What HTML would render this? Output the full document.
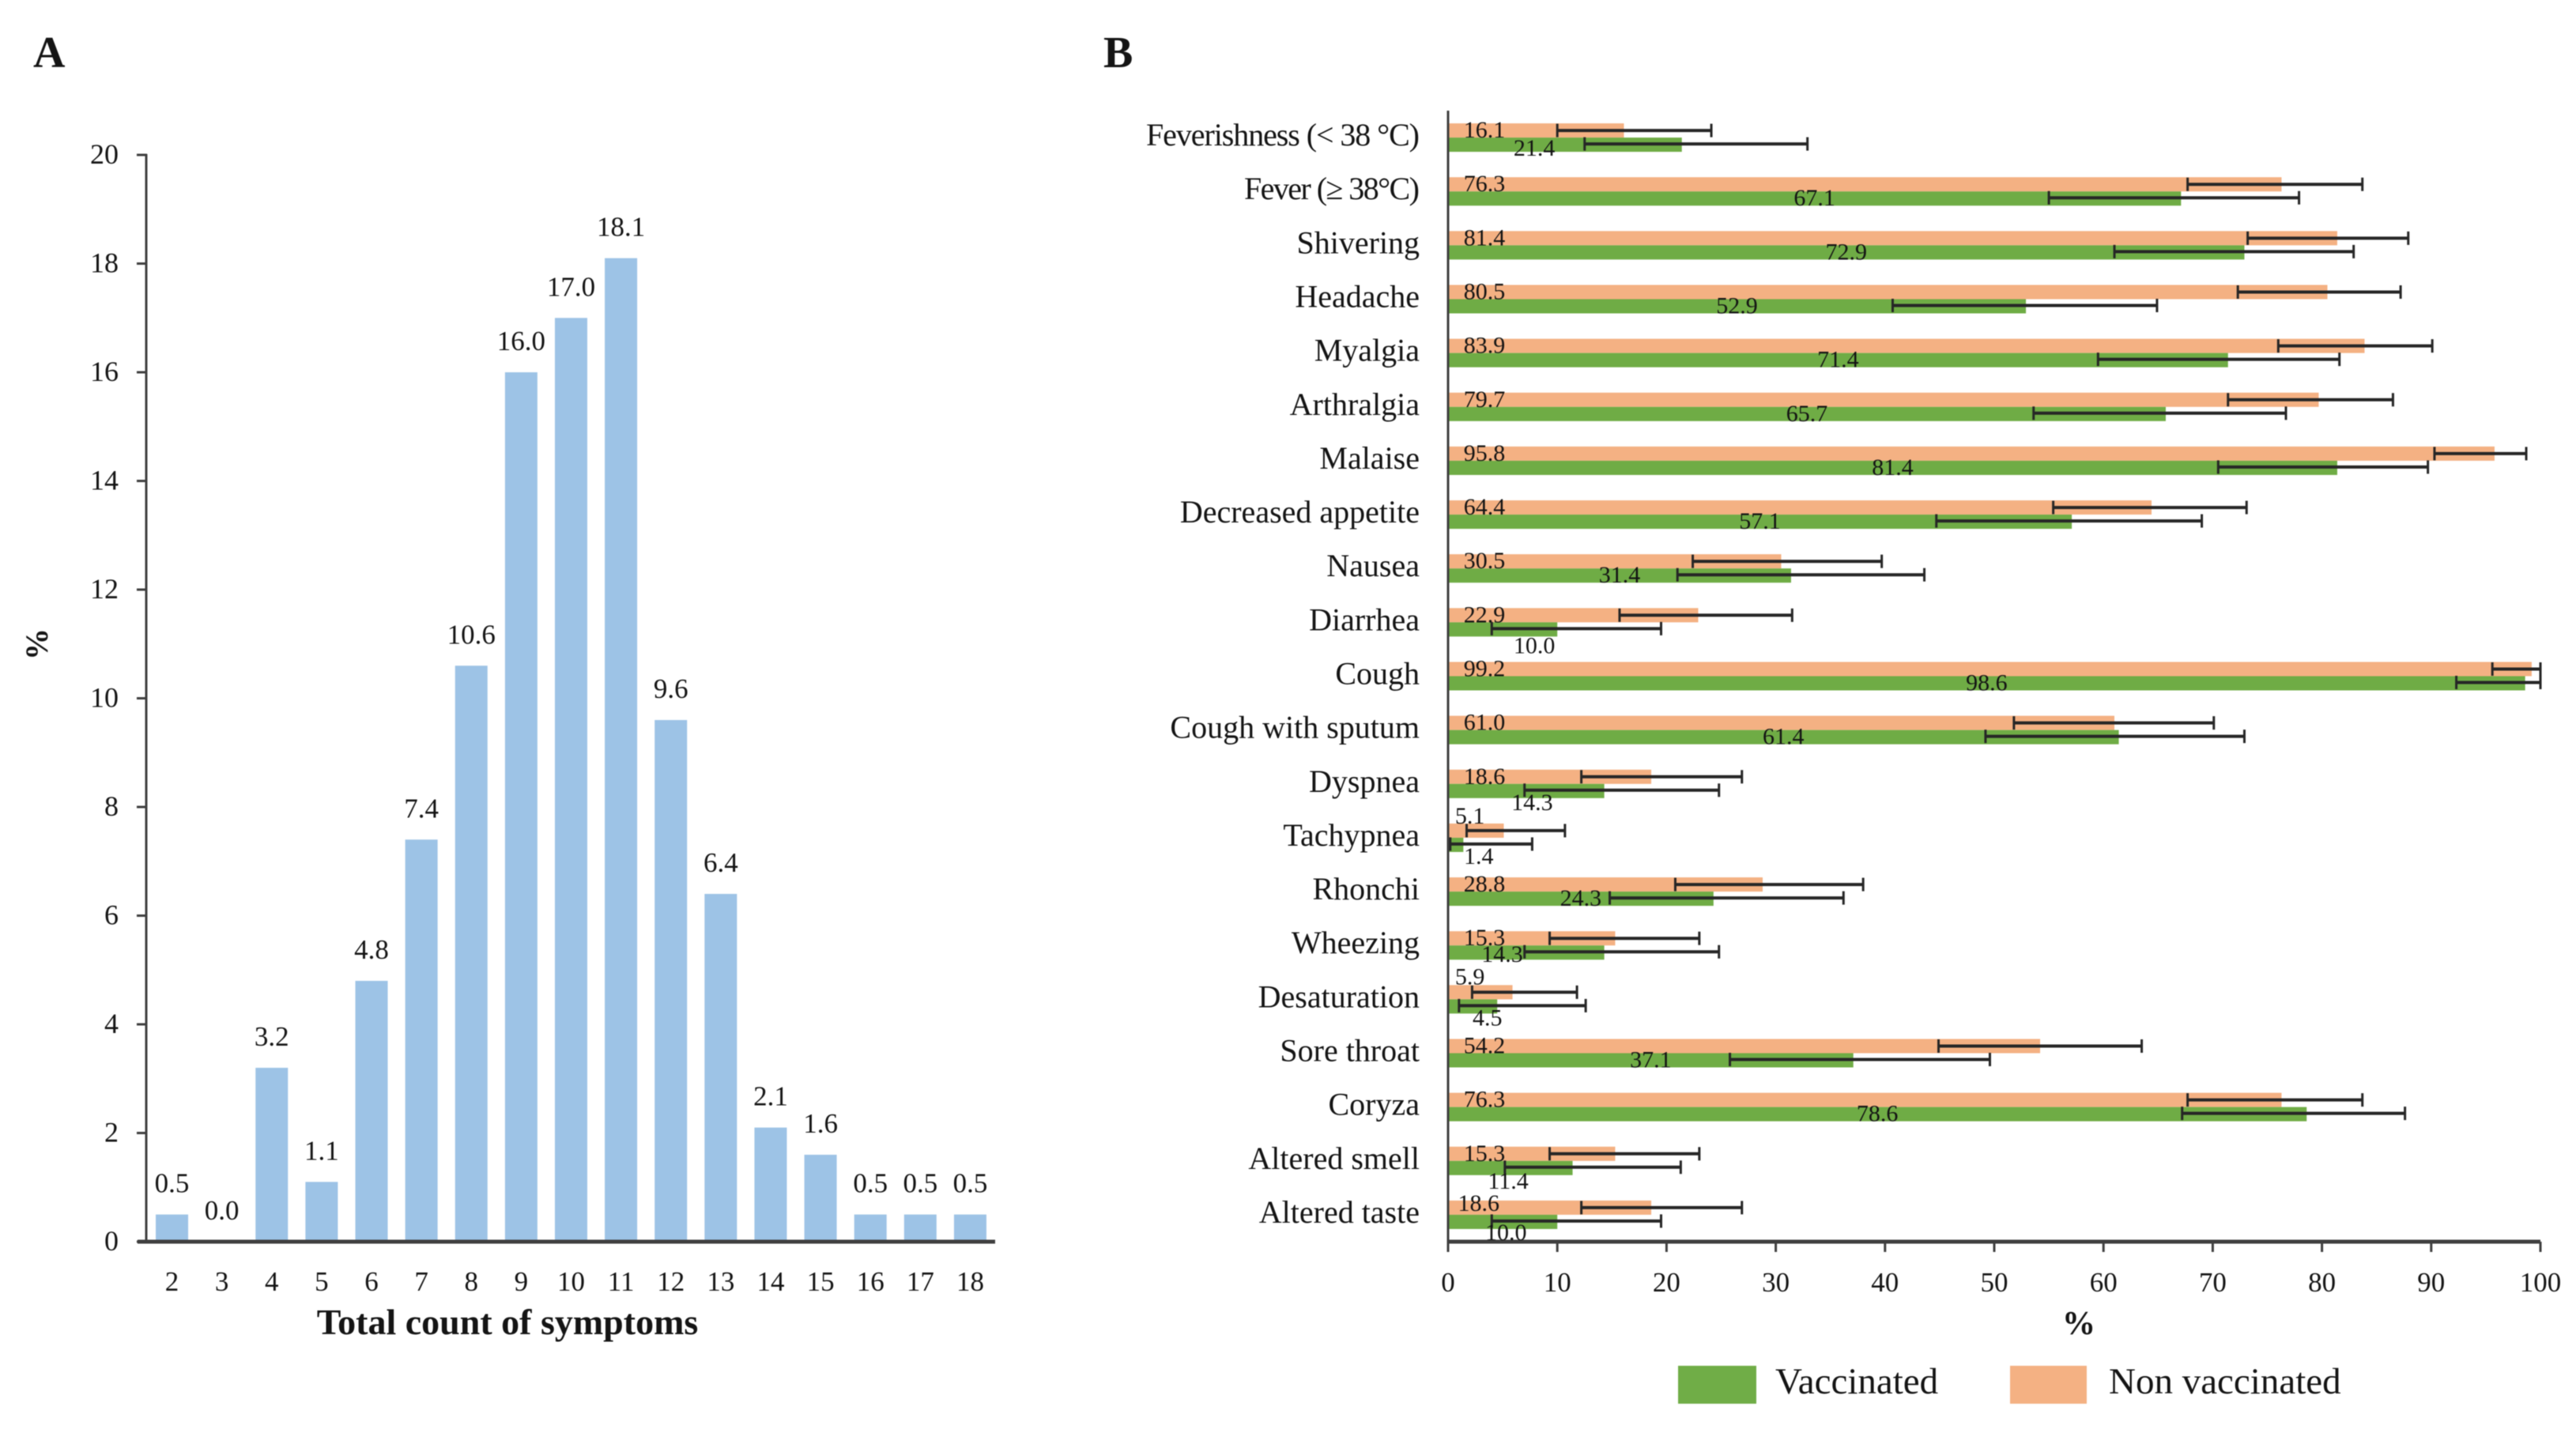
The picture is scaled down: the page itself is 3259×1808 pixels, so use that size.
<!DOCTYPE html>
<html lang="en">
<head>
<meta charset="utf-8">
<title>Symptoms charts</title>
<style>
html,body{margin:0;padding:0;background:#fff;}
svg{display:block;filter:blur(0.6px);}
text{font-family:"Liberation Serif",serif;fill:#141414;}
</style>
</head>
<body>
<svg id="figure" xmlns="http://www.w3.org/2000/svg" width="3259" height="1808" viewBox="0 0 3259 1808">
  <rect x="0" y="0" width="3259" height="1808" fill="#ffffff"/>
  <text x="42" y="85" font-size="56" font-weight="bold">A</text>
  <text x="1396" y="85" font-size="56" font-weight="bold">B</text>
  <text x="642" y="1688" font-size="46" font-weight="bold" text-anchor="middle">Total count of symptoms</text>
  <text transform="translate(60 815) rotate(-90)" font-size="40" font-weight="bold" text-anchor="middle">%</text>
  <text x="2630" y="1688" font-size="42" font-weight="bold" text-anchor="middle">%</text>
  <rect x="2123" y="1728" width="99" height="48" fill="#70AD47"/>
  <text x="2246" y="1763" font-size="47">Vaccinated</text>
  <rect x="2543" y="1728" width="97" height="48" fill="#F4B183"/>
  <text x="2668" y="1763" font-size="47">Non vaccinated</text>
</svg>
<script>
/* Panel A data */
const countCategories = ['2','3','4','5','6','7','8','9','10','11','12','13','14','15','16','17','18'];
const countValues = [0.5,0.0,3.2,1.1,4.8,7.4,10.6,16.0,17.0,18.1,9.6,6.4,2.1,1.6,0.5,0.5,0.5];
const countTicks = [0,2,4,6,8,10,12,14,16,18,20];

/* Panel B data */
const symptoms = ['Feverishness (< 38 °C)','Fever (≥ 38°C)','Shivering','Headache','Myalgia','Arthralgia','Malaise','Decreased appetite','Nausea','Diarrhea','Cough','Cough with sputum','Dyspnea','Tachypnea','Rhonchi','Wheezing','Desaturation','Sore throat','Coryza','Altered smell','Altered taste'];
const nonVaccinated = [16.1,76.3,81.4,80.5,83.9,79.7,95.8,64.4,30.5,22.9,99.2,61.0,18.6,5.1,28.8,15.3,5.9,54.2,76.3,15.3,18.6];
const nonVaccinatedLow = [10.0,67.7,73.2,72.3,76.0,71.4,90.3,55.4,22.4,15.7,95.6,51.8,12.2,1.7,20.8,9.3,2.2,44.9,67.7,9.3,12.2];
const nonVaccinatedHigh = [24.1,83.7,87.9,87.2,90.1,86.5,98.7,73.1,39.7,31.5,100,70.1,26.9,10.7,38.0,23.0,11.8,63.5,83.7,23.0,26.9];
const vaccinated = [21.4,67.1,72.9,52.9,71.4,65.7,81.4,57.1,31.4,10.0,98.6,61.4,14.3,1.4,24.3,14.3,4.5,37.1,78.6,11.4,10.0];
const vaccinatedLow = [12.5,55.0,61.0,40.7,59.5,53.6,70.5,44.7,21.0,4.0,92.3,49.2,7.0,0.2,14.8,7.0,1.0,25.8,67.2,5.2,4.0];
const vaccinatedHigh = [32.9,77.9,82.9,64.9,81.6,76.7,89.7,69.0,43.6,19.5,100,72.9,24.8,7.7,36.2,24.8,12.6,49.6,87.6,21.3,19.5];
const percentTicks = [0,10,20,30,40,50,60,70,80,90,100];

const SVG_NS = 'http://www.w3.org/2000/svg';
const svg = document.getElementById('figure');
function mk(tag, attrs, content) {
  const el = document.createElementNS(SVG_NS, tag);
  for (const k in attrs) el.setAttribute(k, attrs[k]);
  if (content !== undefined) el.textContent = content;
  svg.appendChild(el);
  return el;
}
const AXIS = '#3f3f3f';

/* Panel A scales */
const aLeft = 186, aRight = 1259, aBase = 1571, aTop = 196, aMax = 20;
const aY = v => aBase - (v / aMax) * (aBase - aTop);
const aStep = (aRight - aLeft) / countCategories.length;
const aX = i => aLeft + aStep * (i + 0.5);
const aBarW = 41;

countValues.forEach((v, i) => {
  const bar = mk('rect', {x: aX(i) - aBarW / 2, y: aY(v), width: aBarW, height: aBase - aY(v), fill: '#9DC3E6'});
  
  
  const lab = mk('text', {x: aX(i), y: aY(v) - 28, 'font-size': 35, 'text-anchor': 'middle'}, v.toFixed(1));
  
  
  const cat = mk('text', {x: aX(i), y: 1633, 'font-size': 35, 'text-anchor': 'middle'}, countCategories[i]);
  
  
});
const aYAxis = mk('line', {x1: aLeft - 1, x2: aLeft - 1, y1: aTop - 1, y2: aBase, stroke: AXIS, 'stroke-width': 3});


const aXAxis = mk('line', {x1: 174, x2: aRight, y1: aBase, y2: aBase, stroke: AXIS, 'stroke-width': 5});


countTicks.forEach(t => {
  const tick = mk('line', {x1: 173, x2: aLeft, y1: aY(t), y2: aY(t), stroke: AXIS, 'stroke-width': 3});
  
  
  const lab = mk('text', {x: 150, y: aY(t) + 11, 'font-size': 36, 'text-anchor': 'end'}, String(t));
  
  
});

/* Panel B scales */
const bZero = 1832, bEnd = 3214, bTop = 140, bBase = 1571;
const bX = v => bZero + (v / 100) * (bEnd - bZero);
const bBand = (bBase - bTop) / symptoms.length;
const bC = i => bTop + bBand * (i + 0.5);
const barOrangeH = 18, barGreenH = 18, capH = 17;

const bXAxis = mk('line', {x1: bZero, x2: bEnd, y1: bBase, y2: bBase, stroke: AXIS, 'stroke-width': 5});


percentTicks.forEach(t => {
  const tick = mk('line', {x1: bX(t), x2: bX(t), y1: bBase, y2: 1584, stroke: AXIS, 'stroke-width': 3});
  
  
  const lab = mk('text', {x: bX(t), y: 1634, 'font-size': 35, 'text-anchor': 'middle'}, String(t));
  
  
});

function errorBar(name, lo, hi, y) {
  const g = mk('line', {x1: bX(lo), x2: bX(hi), y1: y, y2: y, stroke: '#262626', 'stroke-width': 4});
  
  
  const a = mk('line', {x1: bX(lo), x2: bX(lo), y1: y - capH / 2, y2: y + capH / 2, stroke: '#262626', 'stroke-width': 3});
  
  
  const b = mk('line', {x1: bX(hi), x2: bX(hi), y1: y - capH / 2, y2: y + capH / 2, stroke: '#262626', 'stroke-width': 3});
  
  
}

/* Hand-placed label nudges: index -> [x in % units, baseline offset in px] */
const orangeLabelPlacement = {13: [2.0, -18], 16: [2.0, -19], 20: [2.8, -5]};
const greenLabelPlacement = {0: [7.9, 23], 9: [7.9, 39], 12: [7.7, 33], 13: [2.8, 33], 15: [4.96, 21], 16: [3.6, 33], 19: [5.5, 35], 20: [5.3, 32]};
/* Labels that the reference sets tighter than the rest: index -> text width in px */
const categoryLabelWidth = {0: 346, 1: 222};

symptoms.forEach((name, i) => {
  const c = bC(i);
  const key = name.split(' ')[0].toLowerCase() + '-' + i;
  const orange = mk('rect', {x: bZero, y: c - barOrangeH, width: bX(nonVaccinated[i]) - bZero, height: barOrangeH, fill: '#F4B183'});
  
  
  const green = mk('rect', {x: bZero, y: c, width: bX(vaccinated[i]) - bZero, height: barGreenH, fill: '#6FAC45'});
  
  
  errorBar('non-vaccinated-error-' + key, nonVaccinatedLow[i], nonVaccinatedHigh[i], c - 9);
  errorBar('vaccinated-error-' + key, vaccinatedLow[i], vaccinatedHigh[i], c + 8);

  const op = orangeLabelPlacement[i];
  const ox = op ? bX(op[0]) : 1878;
  const oy = c + (op ? op[1] : 0);
  const ol = mk('text', {x: ox, y: oy, 'font-size': 30, 'text-anchor': 'middle'}, nonVaccinated[i].toFixed(1));
  
  
  const gp = greenLabelPlacement[i];
  const gx = gp ? bX(gp[0]) : bX(vaccinated[i] / 2);
  const gy = c + (gp ? gp[1] : 18);
  const gl = mk('text', {x: gx, y: gy, 'font-size': 30, 'text-anchor': 'middle'}, vaccinated[i].toFixed(1));
  
  

  const catAttrs = {x: 1796, y: c + 10, 'font-size': 40, 'text-anchor': 'end'};
  if (categoryLabelWidth[i]) {
    catAttrs.textLength = categoryLabelWidth[i];
    catAttrs.lengthAdjust = 'spacing';
  }
  const cat = mk('text', catAttrs, name);
  
  
});

const bYAxis = mk('line', {x1: bZero, x2: bZero, y1: bTop, y2: bBase, stroke: AXIS, 'stroke-width': 3});


</script>
</body>
</html>
